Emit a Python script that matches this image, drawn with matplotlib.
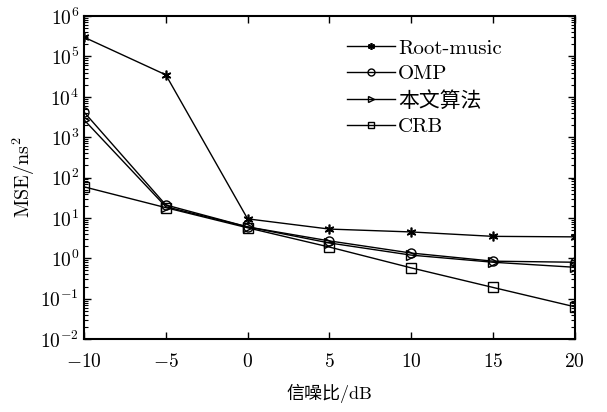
import numpy as np
import matplotlib
matplotlib.use('Agg')
import matplotlib.pyplot as plt
from matplotlib.ticker import LogLocator, NullFormatter

plt.rcParams['font.family'] = ['cmr10', 'Noto Sans CJK SC']
plt.rcParams['mathtext.fontset'] = 'cm'
plt.rcParams['axes.formatter.use_mathtext'] = True
plt.rcParams['axes.unicode_minus'] = True

# data
snr = [-10, -5, 0, 5, 10, 15, 20]
root_music = [3.0e5, 3.5e4, 9.5, 5.3, 4.5, 3.5, 3.4]
omp = [4200, 21, 6.0, 2.7, 1.35, 0.85, 0.80]
proposed = [2700, 19, 6.0, 2.4, 1.2, 0.80, 0.60]
crb = [59, 18, 5.7, 1.9, 0.58, 0.19, 0.063]
labels = ['Root-music', 'OMP', '本文算法', 'CRB']

fig = plt.figure(figsize=(6.07, 4.12), dpi=100)
ax = fig.add_axes([0.1384, 0.177, 0.8086, 0.784])

ax.semilogy(snr, root_music, color='black', lw=1, marker=(6, 2, 0), ms=7, mew=1.2,
            label=labels[0])
ax.semilogy(snr, omp, color='black', lw=1, marker='o', ms=6.5, mfc='none', mew=1,
            label=labels[1])
ax.semilogy(snr, proposed, color='black', lw=1, marker='>', ms=6.5, mfc='none', mew=1,
            label=labels[2])
ax.semilogy(snr, crb, color='black', lw=1, marker='s', ms=6.5, mfc='none', mew=1,
            label=labels[3])

ax.set_xlim(-10, 20)
ax.set_ylim(1e-2, 1e6)
ax.set_xticks([-10, -5, 0, 5, 10, 15, 20])
ax.yaxis.set_major_locator(LogLocator(base=10, numticks=20))
ax.yaxis.set_minor_locator(LogLocator(base=10, subs=np.arange(2, 10), numticks=20))
ax.yaxis.set_minor_formatter(NullFormatter())

ax.tick_params(which='both', direction='in', top=True, right=True, labelsize=14)
ax.tick_params(which='major', length=5, width=1)
ax.tick_params(which='minor', length=3, width=0.8)
ax.tick_params(axis='x', pad=10)
for sp in ax.spines.values():
    sp.set_linewidth(1.5)

ax.set_xlabel('信噪比/dB', fontsize=13, labelpad=9)
ax.set_ylabel(r'MSE/ns$^2$', fontsize=14.5, labelpad=2)

leg = ax.legend(loc='upper left', bbox_to_anchor=(0.519, 0.955), frameon=False,
                fontsize=15, handlelength=2.3, handletextpad=0.15,
                labelspacing=0.35, borderaxespad=0)
for h in leg.legend_handles:
    h.set_markersize(5)

fig.savefig('out.png', dpi=100)
